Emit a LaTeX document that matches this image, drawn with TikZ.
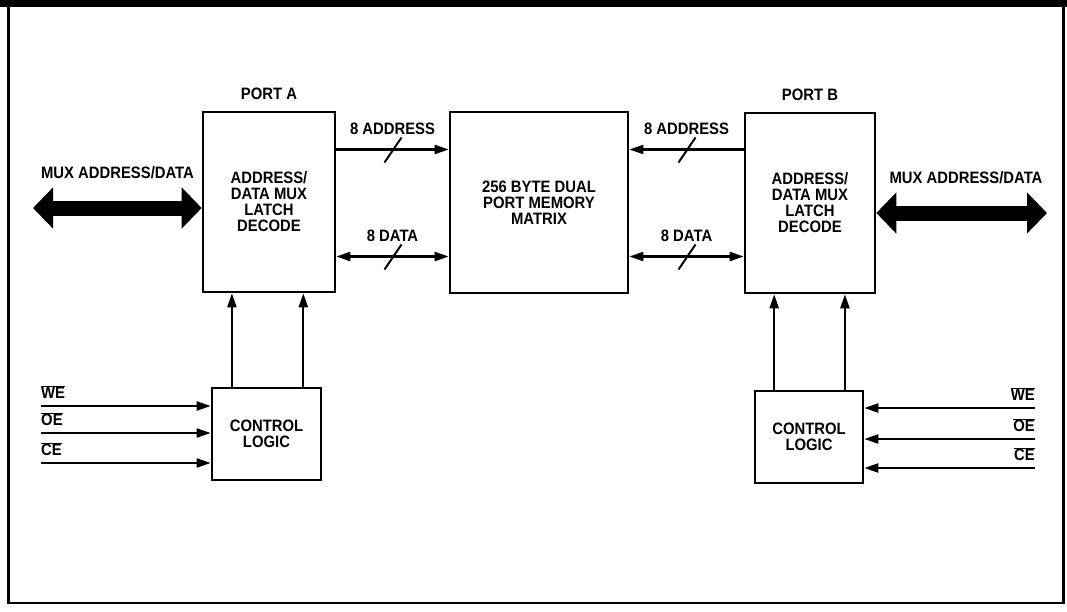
\documentclass[tikz,border=0pt]{standalone}
\usepackage{fontspec}
\setmainfont{Liberation Sans}[FakeStretch=0.9]
\usetikzlibrary{positioning,calc,arrows.meta}
\begin{document}
\begin{tikzpicture}[x=1pt,y=-1pt,
  txt/.style={inner sep=0pt,align=center,font=\bfseries\fontsize{16.5}{16}\selectfont},
  blk/.style={txt,shape=rectangle,draw=black,line width=2.6pt},
  port/.style={blk,minimum width=132pt,minimum height=180pt},
  ctl/.style={blk,minimum width=108pt,minimum height=92pt},
  sig/.style={line width=2.2pt,-{Triangle[length=14pt,width=9pt]}},
  sigb/.style={line width=2.2pt,{Triangle[length=14pt,width=9pt]}-{Triangle[length=14pt,width=9pt]}},
  mux/.style={line width=15pt,{Triangle[length=20pt,width=40pt]}-{Triangle[length=20pt,width=40pt]}},
  buslab/.style={txt,above=14pt},
  slash/.style={line width=2pt}]
\useasboundingbox (0,0) rectangle (1067,611);
\def\slashat#1{\draw[slash] ([shift={(-8,13)}]#1) -- ([shift={(9,-12)}]#1);}

\fill (0,0) rectangle (1067,7);
\draw[line width=2.6pt] (8.5,5) -- (8.5,603) -- (1063.5,603) -- (1063.5,5);

\coordinate (ya) at (0,149.5);
\coordinate (yd) at (0,256.5);

\node[port] (portA) at (269,202) {ADDRESS/\\DATA MUX\\LATCH\\DECODE};
\node[txt,above=11pt of portA] (labA) {PORT A};
\node[blk,minimum width=178pt,minimum height=181pt] (mem) at (539,202.5) {256 BYTE DUAL\\PORT MEMORY\\MATRIX};
\node[port,minimum width=130pt] (portB) at (810,203) {ADDRESS/\\DATA MUX\\LATCH\\DECODE};
\node[txt,above=11pt of portB] (labB) {PORT B};

\node[ctl,minimum width=109pt] (ctlA) at (266.5,434) {CONTROL\\LOGIC};
\node[ctl] (ctlB) at (809,437) {CONTROL\\LOGIC};

% buses to the memory
\draw[sig] (portA.east |- ya) -- node[buslab] {8 ADDRESS} coordinate[midway] (sa) (mem.west |- ya);
\draw[sigb] (portA.east |- yd) -- node[buslab] {8 DATA} coordinate[midway] (sd) (mem.west |- yd);
\draw[sig] (portB.west |- ya) -- node[buslab] {8 ADDRESS} coordinate[midway] (sb) (mem.east |- ya);
\draw[sigb] (mem.east |- yd) -- node[buslab] {8 DATA} coordinate[midway] (se) (portB.west |- yd);
\slashat{sa}
\slashat{sd}
\slashat{sb}
\slashat{se}

% mux address/data
\coordinate (muxL) at (33,208);
\draw[mux] (muxL) -- (muxL -| portA.west);
\node[txt] (muxLlab) at (117.5,173) {MUX ADDRESS/DATA};
\coordinate (muxR) at (1047,213);
\draw[mux] (portB.east |- muxR) -- (muxR);
\node[txt] (muxRlab) at (966,178) {MUX ADDRESS/DATA};

% control logic
\foreach \p in {0.19,0.83}{
  \coordinate (t) at ($(ctlA.north west)!\p!(ctlA.north east)$);
  \draw[sig] (t) -- (t |- portA.south);
}
\foreach \p in {0.185,0.825}{
  \coordinate (t) at ($(ctlB.north west)!\p!(ctlB.north east)$);
  \draw[sig] (t) -- (t |- portB.south);
}
\foreach \n/\y in {WE/406,OE/433,CE/463}{
  \coordinate (inA\n) at (41,\y);
  \draw[sig] (inA\n) -- (inA\n -| ctlA.west);
  \node[txt,anchor=south west] at ([yshift=7pt]inA\n) {$\overline{\hbox{\n}}$};
}
\foreach \n/\y in {WE/408,OE/439,CE/468}{
  \coordinate (inB\n) at (1035,\y);
  \draw[sig] (inB\n) -- (inB\n -| ctlB.east);
  \node[txt,anchor=south east] at ([yshift=7pt]inB\n) {$\overline{\hbox{\n}}$};
}
\end{tikzpicture}
\end{document}
